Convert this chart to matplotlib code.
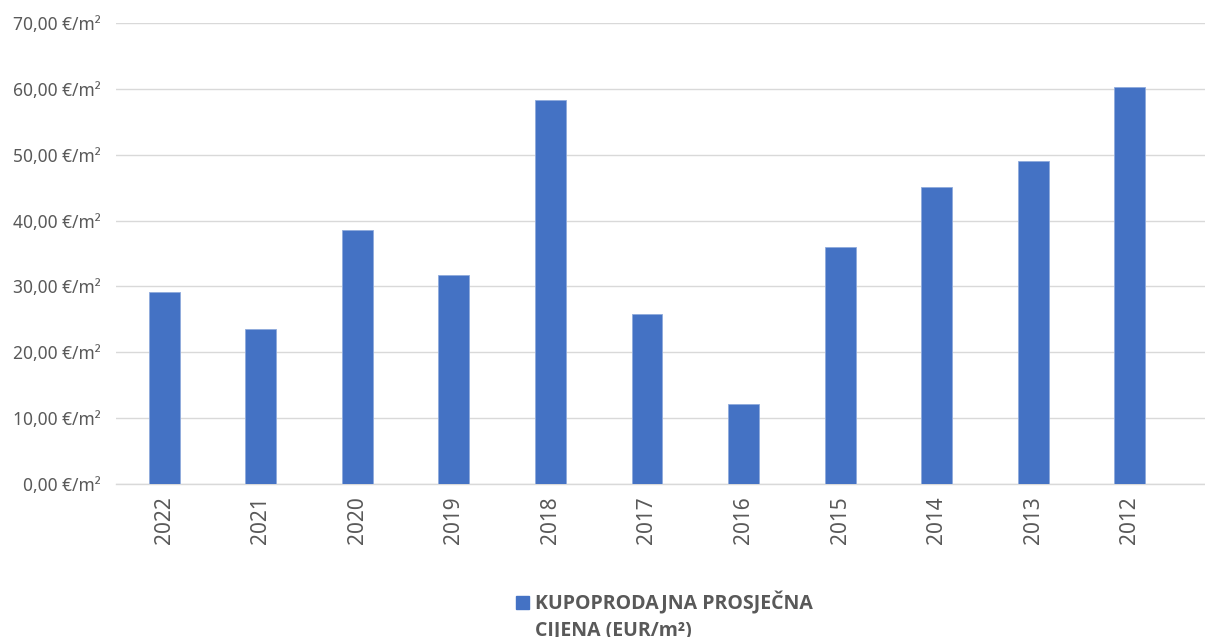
import matplotlib

matplotlib.use("Agg")
import matplotlib.pyplot as plt
from matplotlib.patches import Rectangle

years = ["2022", "2021", "2020", "2019", "2018", "2017", "2016", "2015", "2014", "2013", "2012"]
prices = [29.2, 23.5, 38.6, 31.7, 58.3, 25.8, 12.1, 36.0, 45.1, 49.1, 60.3]
y_ticks = [0, 10, 20, 30, 40, 50, 60, 70]
series_name = "KUPOPRODAJNA PROSJEČNA\nCIJENA (EUR/m²)"

BAR = "#4472C4"
GRID = "#D9D9D9"
TEXT = "#595959"

plt.rcParams["font.family"] = ["Noto Sans", "DejaVu Sans"]

W, H = 1205, 637
fig = plt.figure(figsize=(W / 100, H / 100), dpi=100)
ax = fig.add_axes([116 / W, (H - 484) / H, 1 - 116 / W, (484 - 23) / H])

x = list(range(len(years)))
ax.bar(x, prices, width=0.32, color=BAR, edgecolor="#8FAADC", linewidth=0.6, zorder=3)

ax.set_xlim(-0.5, 10.78)
ax.set_ylim(0, 70)
ax.set_yticks(y_ticks)
ax.set_yticklabels([f"{v:.2f}".replace(".", ",") + " €/m²" for v in y_ticks])
ax.set_xticks(x)
ax.set_xticklabels(years, rotation=90)

ax.grid(axis="y", color=GRID, linewidth=1.0, zorder=0)
for s in ["top", "right", "left"]:
    ax.spines[s].set_visible(False)
ax.spines["bottom"].set_color(GRID)
ax.spines["bottom"].set_linewidth(1.0)
ax.tick_params(axis="both", length=0, colors=TEXT)
ax.tick_params(axis="y", labelsize=12.5, pad=11)
ax.tick_params(axis="x", labelsize=15, pad=9)

# legend drawn by hand so the second line runs off the bottom like the original
fig.patches.append(Rectangle((516 / W, (H - 609) / H), 13 / W, 13 / H,
                             transform=fig.transFigure, color=BAR))
lines = series_name.split("\n")
leg_font = ["Open Sans", "DejaVu Sans"]
fig.text(535 / W, (H - 609) / H, lines[0], color=TEXT, fontsize=14, family=leg_font,
         fontweight="bold", va="baseline", ha="left")
fig.text(535 / W, (H - 635) / H, lines[1], color=TEXT, fontsize=14, family=leg_font,
         fontweight="bold", va="baseline", ha="left")

fig.savefig("out.png", dpi=100)
